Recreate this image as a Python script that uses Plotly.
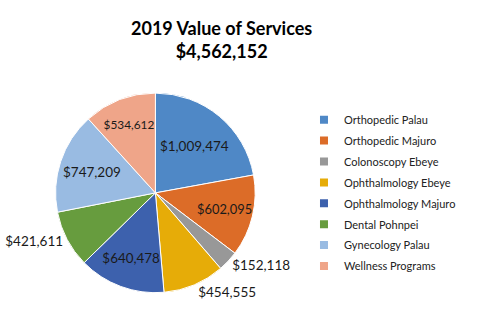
import plotly.graph_objects as go

categories = ["Orthopedic Palau", "Orthopedic Majuro", "Colonoscopy Ebeye",
              "Ophthalmology Ebeye", "Ophthalmology Majuro", "Dental Pohnpei",
              "Gynecology Palau", "Wellness Programs"]
values = [1009474, 602095, 152118, 454555, 640478, 421611, 747209, 534612]
colors = ["#4F88C6", "#DC6C28", "#989898", "#E6AC08", "#3D61AD", "#679C3E", "#99BBE2", "#EFA589"]
label_pos = ["inside", "inside", "outside", "outside", "inside", "outside", "inside", "inside"]

FONT = "Lato, Open Sans, Liberation Sans, sans-serif"

fig = go.Figure()
fig.add_trace(go.Pie(
    labels=categories, values=values, sort=False, direction="clockwise", rotation=0,
    marker=dict(colors=colors, line=dict(color="white", width=1)),
    texttemplate="$%{value:,}", textposition=label_pos,
    textfont=dict(family=FONT, size=13.5, color="#1a1a1a"),
    insidetextorientation="horizontal",
    domain=dict(x=[0.111, 0.532], y=[0.123, 0.722]),
    hoverinfo="label+value", showlegend=False,
))

# legend entries (one per category) so that spacing can match the reference
for name, col in zip(categories, colors):
    fig.add_trace(go.Scatter(
        x=[None], y=[None], mode="markers", name=name, legendgroup=name,
        marker=dict(symbol="square", size=8, color=col), hoverinfo="skip",
    ))

fig.update_layout(
    width=477, height=334, margin=dict(l=0, r=0, t=0, b=0),
    paper_bgcolor="white", plot_bgcolor="white",
    xaxis=dict(visible=False, domain=[0.9, 0.91]), yaxis=dict(visible=False, domain=[0.0, 0.01]),
    annotations=[dict(text="<b>2019 Value of Services</b><br><b>$4,562,152</b>",
                      x=0.462, y=0.955, xref="paper", yref="paper", xanchor="center", yanchor="top",
                      showarrow=False,
                      font=dict(family=FONT, size=18, color="#000"))],
    legend=dict(x=0.635, y=0.685, xanchor="left", yanchor="top",
                font=dict(family=FONT, size=11, color="#222"),
                itemwidth=30, traceorder="grouped", tracegroupgap=1.9),
    showlegend=True,
)

fig.write_html("out.html")
